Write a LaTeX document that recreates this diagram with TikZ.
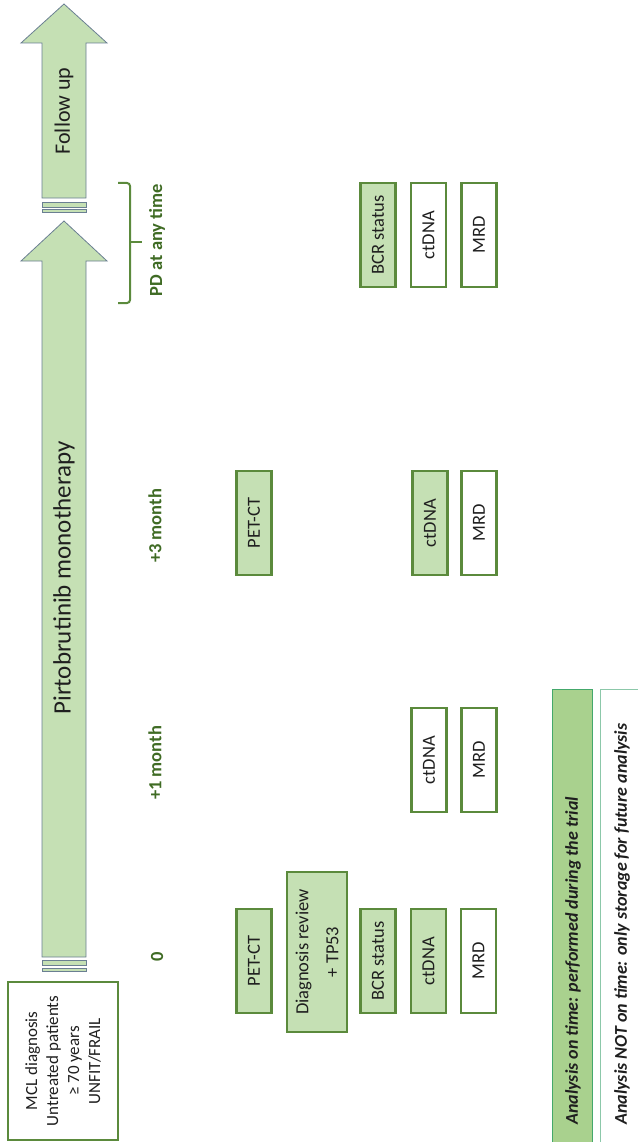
\documentclass[tikz,border=0pt]{standalone}
\usepackage{fontspec}
\setmainfont{Carlito}
\definecolor{lightgreen}{HTML}{C5E0B4}
\definecolor{boxgreen}{HTML}{5B8A3C}
\definecolor{arrowgray}{HTML}{6A7F92}
\definecolor{tpgreen}{HTML}{3F6B24}
\definecolor{legendgreen}{HTML}{A9D18E}
\definecolor{legendline}{HTML}{44A86B}
\definecolor{legendpale}{HTML}{8CC8AA}
\definecolor{textgray}{HTML}{1F1F1F}

\begin{document}
\begin{tikzpicture}[x=1pt, y=-1pt,
	stepbox/.style={draw=boxgreen, line width=2.2pt, rotate=90, minimum width=104pt, minimum height=35pt, inner sep=0pt, text=textgray, font=\fontsize{18.5}{22}\selectfont},
	onbox/.style={stepbox, fill=lightgreen},
	offbox/.style={stepbox, fill=white},
	tpoint/.style={rotate=90, text=tpgreen, font=\fontsize{18.5}{22}\selectfont\bfseries},
	arrowbody/.style={fill=lightgreen, draw=arrowgray, line width=0.8pt},
	legtext/.style={rotate=90, anchor=west, inner sep=0pt, text=textgray, font=\fontsize{18}{22}\selectfont\bfseries\itshape}]
			%%%%% START %%%%%
			\useasboundingbox (0,0) rectangle (637,1142);
			
			% treatment arrow
			\draw[arrowbody] (42,957) -- (42,261) -- (21,261) -- (64,221) -- (107,261) -- (86,261) -- (86,957) -- cycle;
			\draw[arrowbody] (42,960) rectangle (86,965);
			\draw[arrowbody] (42,968) rectangle (86,971);
			\node[rotate=90, text=textgray, font=\fontsize{25}{30}\selectfont] (pirto) at (64,578) {Pirtobrutinib monotherapy};
			
			% follow up arrow
			\draw[arrowbody] (42,198) -- (42,43) -- (21,43) -- (64,4) -- (107,43) -- (86,43) -- (86,198) -- cycle;
			\draw[arrowbody] (42,202) rectangle (86,207);
			\draw[arrowbody] (42,209) rectangle (86,212);
			\node[rotate=90, text=textgray, font=\fontsize{22}{26}\selectfont] (follow) at (64,111) {Follow up};
			
			\node[draw=boxgreen, fill=white, line width=2.5pt, rotate=90, minimum width=158pt, minimum height=110pt, align=center, text=textgray, font=\fontsize{17}{21}\selectfont] (mcl) at (63,1061) {MCL diagnosis\\Untreated patients\\≥ 70 years\\UNFIT/FRAIL};
			
			% time points
			\node[tpoint] (tzero) at (157,957) {0};
			\node[tpoint] (tone) at (155,763) {+1 month};
			\node[tpoint] (tthree) at (155,526) {+3 month};
			\node[tpoint] (tpd) at (157,240) {PD at any time};
			\draw[boxgreen, line width=2pt, rounded corners=3pt] (118,183) -- (130,183) -- (130,303) -- (118,303);
			\draw[boxgreen, line width=2pt] (130,242) -- (142,242);
			
			% baseline
			\node[onbox] (petzero) at (254,961) {PET-CT};
			\node[onbox, minimum width=160pt, minimum height=60pt, align=center, font=\fontsize{18.5}{30}\selectfont] (diagzero) at (317,952) {Diagnosis review\\+ TP53};
			\node[onbox] (bcrzero) at (378,961) {BCR status};
			\node[onbox] (ctzero) at (428.5,961) {ctDNA};
			\node[offbox] (mrdzero) at (478.5,961) {MRD};
			
			% +1 month
			\node[offbox] (ctone) at (429,760) {ctDNA};
			\node[offbox] (mrdone) at (479,760) {MRD};
			
			% +3 month
			\node[onbox] (petthree) at (254,523) {PET-CT};
			\node[onbox] (ctthree) at (430,523) {ctDNA};
			\node[offbox] (mrdthree) at (479,523) {MRD};
			
			% progression
			\node[onbox] (bcrpd) at (378,235) {BCR status};
			\node[offbox] (ctpd) at (428.5,235) {ctDNA};
			\node[offbox] (mrdpd) at (479,235) {MRD};
			
			% legend
			\draw[fill=legendgreen, draw=legendline, line width=1pt] (552,689) rectangle (592,1150);
			\draw[fill=white, draw=legendpale, line width=1pt] (600,689) rectangle (645,1150);
			\node[legtext] (legon) at (573,1125) {Analysis on time: performed during the trial};
			\node[legtext] (legoff) at (622,1125) {Analysis NOT on time: only storage for future analysis};
			
			%%%%% END %%%%%
\end{tikzpicture}
\end{document}
